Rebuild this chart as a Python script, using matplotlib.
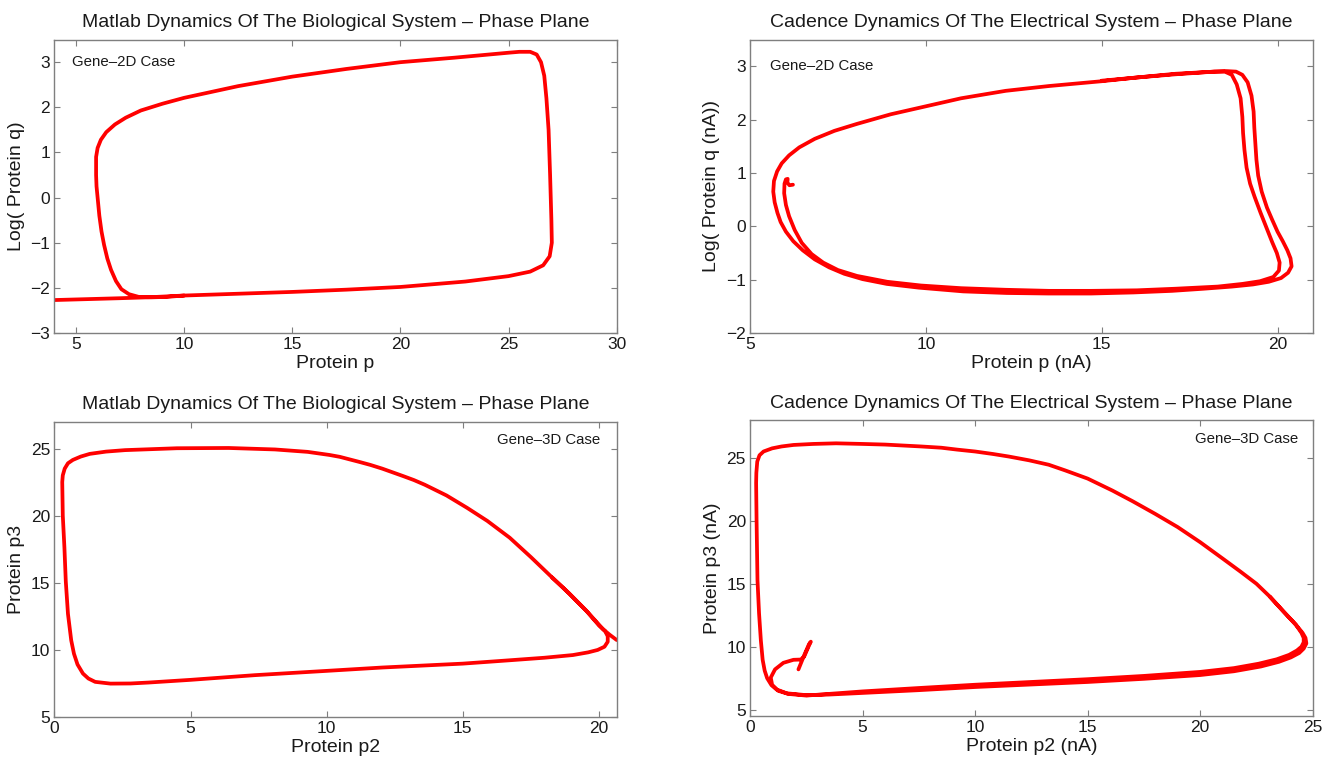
import matplotlib.pyplot as plt

plt.rcParams['font.family'] = ['Liberation Sans', 'DejaVu Sans']

# Gene-2D, Matlab: protein p vs log(protein q)
bio2d_p = [4.0, 5.5, 7.0, 8.3, 10.0, 12.5, 15.0, 17.5, 20.0, 23.0, 25.0, 26.0, 26.6,
           26.9, 27.0, 26.98, 26.92, 26.85, 26.75, 26.65, 26.5, 26.3, 26.0, 25.5,
           25.0, 22.5, 20.0, 17.5, 15.0, 12.5, 10.0, 9.0, 8.0, 7.3, 6.8, 6.4, 6.15,
           6.0, 5.93, 5.93, 5.95, 6.0, 6.08, 6.18, 6.3, 6.45, 6.62, 6.85, 7.1, 7.45,
           7.9, 8.5, 9.2, 10.0]
bio2d_q = [-2.27, -2.25, -2.23, -2.21, -2.17, -2.13, -2.09, -2.04, -1.98, -1.86,
           -1.74, -1.64, -1.5, -1.3, -1.0, -0.5, 0.5, 1.5, 2.2, 2.7, 3.0, 3.17,
           3.23, 3.23, 3.21, 3.1, 3.0, 2.85, 2.68, 2.47, 2.21, 2.08, 1.93, 1.77,
           1.62, 1.45, 1.28, 1.1, 0.9, 0.5, 0.25, 0.0, -0.4, -0.75, -1.05, -1.35,
           -1.6, -1.85, -2.03, -2.14, -2.2, -2.21, -2.2, -2.17]

# Gene-2D, Cadence: protein p (nA) vs log(protein q (nA))
ckt2d_p = [6.22, 6.12, 6.06, 6.07, 6.02, 5.98, 5.97, 6.02, 6.11, 6.27, 6.47, 6.75,
           7.08, 7.5, 8.04, 8.9, 9.86, 11.0, 12.27, 13.5, 14.7, 16.0, 17.1, 18.3,
           19.0, 19.5, 19.88, 20.04, 20.06, 19.98, 19.85, 19.7, 19.52, 19.35, 19.22,
           19.12, 19.06, 19.02, 19.0, 18.95, 18.84, 18.7, 18.5, 18.2, 17.1, 16.0,
           15.0, 13.5, 12.27, 11.0, 10.0, 9.0, 8.04, 7.4, 6.84, 6.4, 6.11, 5.9,
           5.77, 5.68, 5.66, 5.7, 5.78, 5.87, 6.02, 6.23, 6.5, 6.84, 7.25, 7.68,
           8.2, 8.89, 9.8, 11.06, 12.3, 13.48, 14.7, 15.9, 17.0, 17.9, 18.7, 19.3,
           19.75, 20.1, 20.3, 20.4, 20.37, 20.28, 20.15, 20.0, 19.85, 19.7, 19.55,
           19.45, 19.4, 19.37, 19.34, 19.32, 19.26, 19.15, 19.0, 18.82, 18.55,
           18.2, 17.1, 16.0, 15.0]
ckt2d_q = [0.78, 0.77, 0.82, 0.89, 0.88, 0.8, 0.62, 0.4, 0.19, -0.07, -0.31, -0.52,
           -0.68, -0.82, -0.93, -1.04, -1.11, -1.16, -1.19, -1.21, -1.21, -1.2,
           -1.17, -1.13, -1.08, -1.03, -0.95, -0.83, -0.68, -0.5, -0.3, -0.05,
           0.25, 0.55, 0.8, 1.1, 1.43, 1.75, 2.05, 2.4, 2.66, 2.84, 2.9, 2.9,
           2.85, 2.79, 2.72, 2.63, 2.54, 2.4, 2.25, 2.1, 1.92, 1.79, 1.64, 1.48,
           1.33, 1.18, 1.03, 0.85, 0.65, 0.45, 0.25, 0.08, -0.1, -0.28, -0.45,
           -0.62, -0.77, -0.89, -0.99, -1.08, -1.15, -1.22, -1.25, -1.26, -1.26,
           -1.24, -1.21, -1.17, -1.13, -1.09, -1.04, -0.97, -0.87, -0.75, -0.6,
           -0.45, -0.28, -0.1, 0.12, 0.35, 0.65, 0.95, 1.25, 1.55, 1.85, 2.15,
           2.45, 2.7, 2.84, 2.9, 2.91, 2.9, 2.86, 2.79, 2.73]

# Gene-3D, Matlab: protein p2 vs protein p3
bio3d_p2 = [20.65, 20.4, 20.16, 19.85, 19.53, 18.9, 18.28, 17.5, 16.72, 15.9, 15.16,
            14.4, 13.6, 13.2, 12.8, 12.04, 11.6, 11.2, 10.48, 10.1, 9.3, 8.1, 6.4,
            4.5, 2.6, 1.9, 1.3, 0.97, 0.68, 0.5, 0.38, 0.31, 0.29, 0.31, 0.37, 0.42,
            0.5, 0.62, 0.72, 0.85, 1.05, 1.25, 1.5, 2.06, 2.8, 3.46, 5.0, 7.36,
            10.0, 12.04, 15.0, 16.72, 18.0, 19.04, 19.6, 19.95, 20.2, 20.32, 20.32,
            20.22, 20.0, 19.53, 18.9, 18.28]
bio3d_p3 = [10.72, 11.1, 11.5, 12.2, 12.91, 14.2, 15.38, 16.9, 18.35, 19.6, 20.57,
            21.5, 22.3, 22.65, 22.95, 23.5, 23.78, 24.0, 24.38, 24.52, 24.75, 24.93,
            25.04, 25.02, 24.88, 24.77, 24.6, 24.4, 24.15, 23.9, 23.5, 23.0, 22.5,
            20.0, 17.6, 15.1, 12.67, 10.69, 9.7, 8.9, 8.22, 7.85, 7.6, 7.47, 7.48,
            7.55, 7.75, 8.1, 8.42, 8.67, 8.96, 9.21, 9.4, 9.6, 9.8, 9.98, 10.22,
            10.59, 11.0, 11.4, 11.8, 12.91, 14.2, 15.38]

# Gene-3D, Cadence: protein p2 (nA) vs protein p3 (nA)
ckt3d_p2 = [2.15, 2.4, 2.62, 2.7, 2.62, 2.4, 2.25, 1.93, 1.48, 1.11, 0.92, 0.98,
            1.19, 1.63, 2.52, 3.5, 4.89, 7.5, 10.0, 12.5, 15.0, 17.5, 20.0, 21.5,
            22.7, 23.5, 24.03, 24.4, 24.6, 24.72, 24.68, 24.55, 24.25, 23.7, 23.1,
            22.5, 21.8, 21.0, 20.0, 19.0, 18.0, 17.0, 16.1, 15.0, 14.0, 13.27, 12.4,
            11.5, 10.8, 10.0, 9.2, 8.5, 7.6, 6.0, 5.0, 3.82, 2.8, 1.93, 1.4, 0.98,
            0.6, 0.42, 0.32, 0.28, 0.27, 0.29, 0.33, 0.4, 0.48, 0.56, 0.65, 0.76,
            0.95, 1.25, 1.7, 2.5, 5.0, 7.5, 10.0, 12.5, 15.0, 17.5, 20.0, 21.5,
            22.6, 23.4, 23.95, 24.3, 24.5, 24.6, 24.6, 24.5, 24.25, 23.7, 23.1]
ckt3d_p3 = [8.2, 9.3, 10.2, 10.4, 10.1, 9.2, 8.98, 8.96, 8.72, 8.2, 7.55, 6.98, 6.6,
            6.3, 6.15, 6.2, 6.32, 6.55, 6.8, 7.0, 7.2, 7.45, 7.75, 8.05, 8.43, 8.8,
            9.15, 9.5, 9.85, 10.26, 10.7, 11.1, 11.75, 12.8, 13.97, 15.0, 15.95,
            17.0, 18.3, 19.5, 20.55, 21.55, 22.4, 23.35, 24.0, 24.45, 24.8, 25.1,
            25.3, 25.5, 25.65, 25.8, 25.9, 26.05, 26.1, 26.15, 26.1, 26.02, 25.9,
            25.75, 25.5, 25.2, 24.7, 23.8, 23.0, 20.0, 15.3, 12.65, 10.5, 8.96, 8.1,
            7.5, 6.95, 6.5, 6.25, 6.12, 6.45, 6.72, 6.98, 7.2, 7.42, 7.68, 8.0, 8.3,
            8.65, 9.0, 9.35, 9.7, 10.0, 10.35, 10.7, 11.1, 11.75, 12.8, 13.97]

fig = plt.figure(figsize=(13.32, 7.62), dpi=100)

frame = '#7f7f7f'
panels = [
    # rect, x, y, xlim, ylim, xticks, yticks, title, xlabel, ylabel, tag, tag position
    ([0.0408, 0.563, 0.4222, 0.385], bio2d_p, bio2d_q, (4, 30), (-3, 3.5),
     [5, 10, 15, 20, 25, 30], [-3, -2, -1, 0, 1, 2, 3],
     'Matlab Dynamics Of The Biological System \u2013 Phase Plane',
     'Protein p', 'Log( Protein q)', 'Gene\u20132D Case', (4.82, 3.0, 'left')),
    ([0.5631, 0.563, 0.4224, 0.385], ckt2d_p, ckt2d_q, (5, 21), (-2, 3.5),
     [5, 10, 15, 20], [-2, -1, 0, 1, 2, 3],
     'Cadence Dynamics Of The Electrical System \u2013 Phase Plane',
     'Protein p (nA)', 'Log( Protein q (nA))', 'Gene\u20132D Case', (5.57, 3.0, 'left')),
    ([0.0408, 0.0594, 0.4222, 0.3872], bio3d_p2, bio3d_p3, (0, 20.65), (5, 27),
     [0, 5, 10, 15, 20], [5, 10, 15, 20, 25],
     'Matlab Dynamics Of The Biological System \u2013 Phase Plane',
     'Protein p2', 'Protein p3', 'Gene\u20133D Case', (20.05, 25.64, 'right')),
    ([0.5631, 0.0604, 0.4224, 0.3884], ckt3d_p2, ckt3d_p3, (0, 25), (4.5, 28),
     [0, 5, 10, 15, 20, 25], [5, 10, 15, 20, 25],
     'Cadence Dynamics Of The Electrical System \u2013 Phase Plane',
     'Protein p2 (nA)', 'Protein p3 (nA)', 'Gene\u20133D Case', (24.36, 26.5, 'right')),
]

for rect, xs, ys, xlim, ylim, xt, yt, title, xl, yl, tag, (tx, ty, ha) in panels:
    ax = fig.add_axes(rect)
    ax.plot(xs, ys, color='#ff0000', lw=2.7, solid_joinstyle='round',
            solid_capstyle='round')
    ax.set_xlim(*xlim)
    ax.set_ylim(*ylim)
    ax.set_xticks(xt)
    ax.set_yticks(yt)
    ax.set_xticklabels([str(v) for v in xt])
    ax.set_yticklabels([str(v).replace('-', '\u2212') for v in yt])
    for s in ax.spines.values():
        s.set_color(frame)
        s.set_linewidth(1.0)
    ax.tick_params(direction='in', top=True, right=True, length=4, width=0.8,
                   color=frame, labelsize=12.5, labelcolor='#1a1a1a', pad=3)
    ax.set_title(title, fontsize=14, color='#1a1a1a', pad=9)
    ax.set_xlabel(xl, fontsize=14, color='#1a1a1a', labelpad=2)
    ax.set_ylabel(yl, fontsize=14, color='#1a1a1a', labelpad=4)
    ax.text(tx, ty, tag, ha=ha, va='center', fontsize=10.8, color='#1a1a1a')

fig.savefig('out.png', dpi=100)
